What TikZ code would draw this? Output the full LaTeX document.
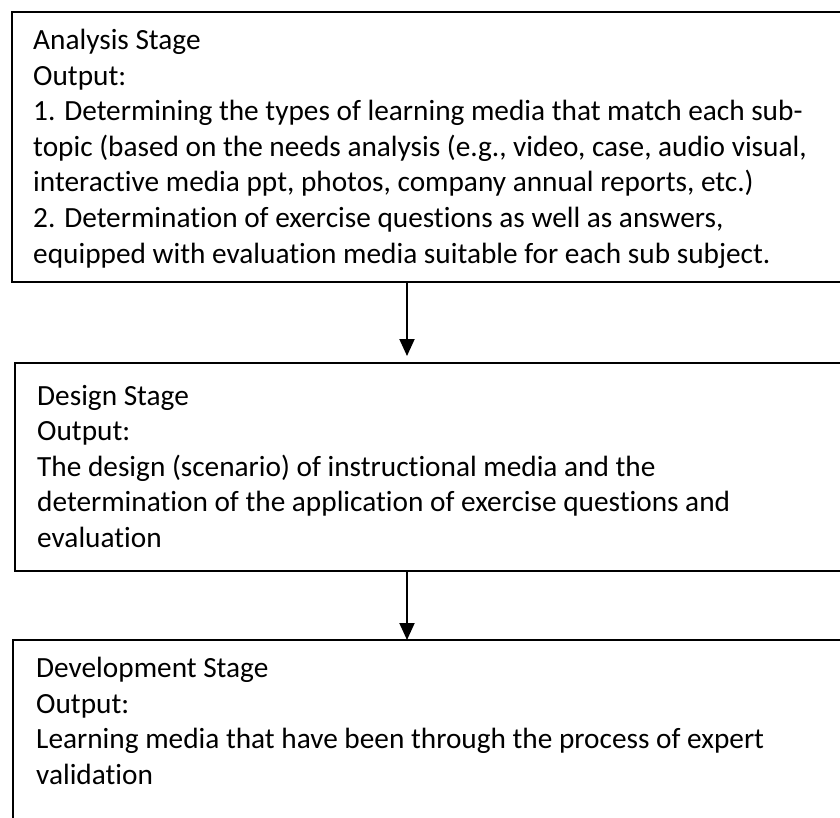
\documentclass[tikz,border=0pt]{standalone}
\usepackage{fontspec}
\setmainfont{Carlito}[Ligatures=NoCommon]
\usetikzlibrary{arrows.meta}

\begin{document}
\begin{tikzpicture}[x=1pt, y=-1pt,
  stagebox/.style={draw=black, line width=2pt, rectangle, inner sep=0pt, outer sep=0pt},
  stagetext/.style={anchor=base west, inner sep=0pt, align=left,
    font=\fontsize{29.3}{35.5}\selectfont},
  flow/.style={draw=black, line width=2pt,
    -{Triangle[width=15pt,length=17pt]}}]

  % page frame
  \useasboundingbox[fill=white] (0,0) rectangle (840,818);

  % stage frames (right and lower edges run past the page)
  \node[stagebox, minimum width=888pt, minimum height=270pt] (b1) at (456,147) {};
  \node[stagebox, minimum width=885pt, minimum height=208pt] (b2) at (457.5,467) {};
  \node[stagebox, minimum width=887pt, minimum height=300pt] (b3) at (456.5,790) {};

  % stage texts, placed by the baseline of their last line
  \node[stagetext] (t1) at (33,263) {Analysis Stage\\
    Output:\\
    1. Determining the types of learning media that match each sub-\\
    topic (based on the needs analysis (e.g., video, case, audio visual,\\
    interactive media ppt, photos, company annual reports, etc.)\\
    2. Determination of exercise questions as well as answers,\\
    equipped with evaluation media suitable for each sub subject.};

  \node[stagetext] (t2) at (37,547) {Design Stage\\
    Output:\\
    The design (scenario) of instructional media and the\\
    determination of the application of exercise questions and\\
    evaluation};

  \node[stagetext] (t3) at (36,784) {Development Stage\\
    Output:\\
    Learning media that have been through the process of expert\\
    validation};

  % connectors
  \coordinate (ax) at (407,0);
  \draw[flow, shorten >=7pt] (ax |- b1.south) -- (ax |- b2.north);
  \draw[flow] (ax |- b2.south) -- (ax |- b3.north);
\end{tikzpicture}
\end{document}
